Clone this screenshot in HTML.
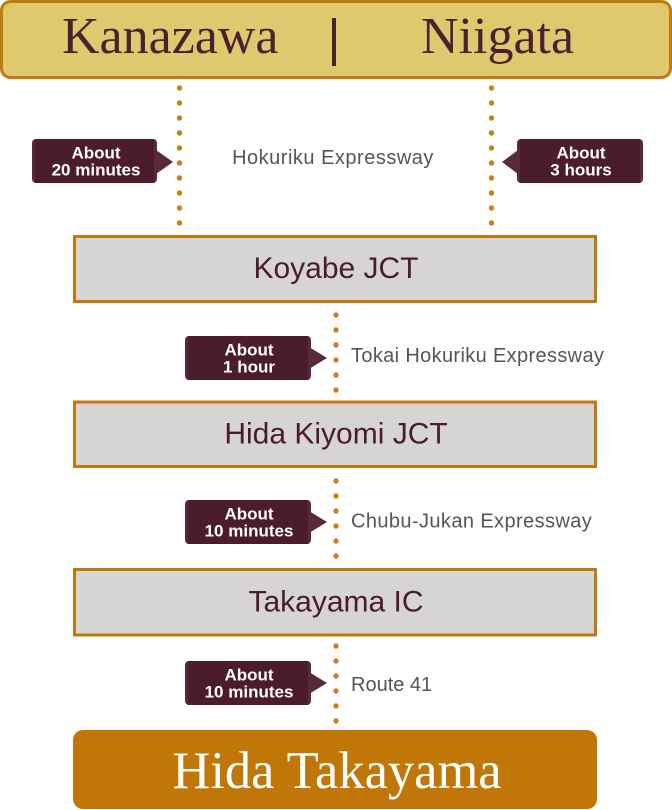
<!DOCTYPE html>
<html>
<head>
<meta charset="utf-8">
<style>
html,body{margin:0;padding:0;background:#fff;}
svg{display:block;}
.serif{font-family:"Liberation Serif","Times New Roman",serif;}
.sans{font-family:"Liberation Sans",Arial,sans-serif;}
</style>
</head>
<body>
<svg width="672" height="810" viewBox="0 0 672 810" xmlns="http://www.w3.org/2000/svg">
  <!-- Top box -->
  <rect x="1.5" y="1.5" width="669" height="76" rx="9" ry="9" fill="#dec96f" stroke="#c27a12" stroke-width="3"/>
  <text class="serif" x="62" y="53" font-size="52" fill="#4e1f2e">Kanazawa</text>
  <rect x="332" y="18" width="4" height="48" fill="#4e1f2e"/>
  <text class="serif" x="421" y="53" font-size="52" fill="#4e1f2e">Niigata</text>

  <!-- Dots -->
  <g fill="#c8801a">
    <circle cx="179.5" cy="88" r="2.7"/><circle cx="179.5" cy="103" r="2.7"/><circle cx="179.5" cy="118" r="2.7"/><circle cx="179.5" cy="133" r="2.7"/><circle cx="179.5" cy="148" r="2.7"/><circle cx="179.5" cy="163" r="2.7"/><circle cx="179.5" cy="178" r="2.7"/><circle cx="179.5" cy="193" r="2.7"/><circle cx="179.5" cy="208" r="2.7"/><circle cx="179.5" cy="223" r="2.7"/>
    <circle cx="491.5" cy="88" r="2.7"/><circle cx="491.5" cy="103" r="2.7"/><circle cx="491.5" cy="118" r="2.7"/><circle cx="491.5" cy="133" r="2.7"/><circle cx="491.5" cy="148" r="2.7"/><circle cx="491.5" cy="163" r="2.7"/><circle cx="491.5" cy="178" r="2.7"/><circle cx="491.5" cy="193" r="2.7"/><circle cx="491.5" cy="208" r="2.7"/><circle cx="491.5" cy="223" r="2.7"/>
    <circle cx="336" cy="315" r="2.7"/><circle cx="336" cy="330" r="2.7"/><circle cx="336" cy="345" r="2.7"/><circle cx="336" cy="360" r="2.7"/><circle cx="336" cy="375" r="2.7"/><circle cx="336" cy="390" r="2.7"/>
    <circle cx="336" cy="481" r="2.7"/><circle cx="336" cy="496" r="2.7"/><circle cx="336" cy="511" r="2.7"/><circle cx="336" cy="526" r="2.7"/><circle cx="336" cy="541" r="2.7"/><circle cx="336" cy="556" r="2.7"/>
    <circle cx="336" cy="646" r="2.7"/><circle cx="336" cy="661" r="2.7"/><circle cx="336" cy="676" r="2.7"/><circle cx="336" cy="691" r="2.7"/><circle cx="336" cy="706" r="2.7"/><circle cx="336" cy="721" r="2.7"/>
  </g>

  <!-- Badge left (20 minutes) -->
  <g>
    <polygon points="156,150 173,162 156,174" fill="#592a39"/>
    <rect x="32" y="139" width="125" height="44" rx="4" fill="#592a39"/>
    <rect x="35" y="139" width="119" height="44" fill="#4b1c2c"/>
    <text class="sans" x="96" y="158.5" font-size="17" font-weight="bold" fill="#fff" text-anchor="middle">About</text>
    <text class="sans" x="96" y="175.5" font-size="17" font-weight="bold" fill="#fff" text-anchor="middle">20 minutes</text>
  </g>
  <!-- Badge right (3 hours) -->
  <g>
    <polygon points="518,150 502,162 518,174" fill="#592a39"/>
    <rect x="517" y="139" width="126" height="44" rx="4" fill="#592a39"/>
    <rect x="520" y="139" width="120" height="44" fill="#4b1c2c"/>
    <text class="sans" x="581" y="158.5" font-size="17" font-weight="bold" fill="#fff" text-anchor="middle">About</text>
    <text class="sans" x="581" y="175.5" font-size="17" font-weight="bold" fill="#fff" text-anchor="middle">3 hours</text>
  </g>
  <text class="sans" x="333" y="164" font-size="20" letter-spacing="0.5" fill="#555" text-anchor="middle">Hokuriku Expressway</text>

  <!-- Koyabe JCT -->
  <rect x="74.5" y="236.5" width="521" height="65" fill="#d7d5d3" stroke="#c27812" stroke-width="3"/>
  <text class="sans" x="336" y="278" font-size="30" fill="#4a1c2b" text-anchor="middle">Koyabe JCT</text>

  <!-- Badge 1 hour -->
  <g>
    <polygon points="309,347 327,358 309,369" fill="#592a39"/>
    <rect x="185" y="336" width="126" height="44" rx="4" fill="#592a39"/>
    <rect x="188" y="336" width="120" height="44" fill="#4b1c2c"/>
    <text class="sans" x="249" y="355.5" font-size="17" font-weight="bold" fill="#fff" text-anchor="middle">About</text>
    <text class="sans" x="249" y="372.5" font-size="17" font-weight="bold" fill="#fff" text-anchor="middle">1 hour</text>
  </g>
  <text class="sans" x="351" y="362" font-size="20" letter-spacing="0.35" fill="#555">Tokai Hokuriku Expressway</text>

  <!-- Hida Kiyomi JCT -->
  <rect x="74.5" y="402" width="521" height="64.5" fill="#d7d5d3" stroke="#c27812" stroke-width="3"/>
  <text class="sans" x="336" y="443.5" font-size="30" fill="#4a1c2b" text-anchor="middle">Hida Kiyomi JCT</text>

  <!-- Badge 10 minutes -->
  <g>
    <polygon points="309,511 327,522 309,533" fill="#592a39"/>
    <rect x="185" y="500" width="126" height="44" rx="4" fill="#592a39"/>
    <rect x="188" y="500" width="120" height="44" fill="#4b1c2c"/>
    <text class="sans" x="249" y="519.5" font-size="17" font-weight="bold" fill="#fff" text-anchor="middle">About</text>
    <text class="sans" x="249" y="536.5" font-size="17" font-weight="bold" fill="#fff" text-anchor="middle">10 minutes</text>
  </g>
  <text class="sans" x="351" y="527.3" font-size="20" letter-spacing="0.4" fill="#555">Chubu-Jukan Expressway</text>

  <!-- Takayama IC -->
  <rect x="74.5" y="569.5" width="521" height="65.5" fill="#d7d5d3" stroke="#c27812" stroke-width="3"/>
  <text class="sans" x="336" y="611.7" font-size="30" fill="#4a1c2b" text-anchor="middle">Takayama IC</text>

  <!-- Badge 10 minutes (2) -->
  <g>
    <polygon points="309,672 327,683 309,694" fill="#592a39"/>
    <rect x="185" y="661" width="126" height="44" rx="4" fill="#592a39"/>
    <rect x="188" y="661" width="120" height="44" fill="#4b1c2c"/>
    <text class="sans" x="249" y="680.5" font-size="17" font-weight="bold" fill="#fff" text-anchor="middle">About</text>
    <text class="sans" x="249" y="697.5" font-size="17" font-weight="bold" fill="#fff" text-anchor="middle">10 minutes</text>
  </g>
  <text class="sans" x="351" y="691" font-size="20" fill="#555">Route 41</text>

  <!-- Hida Takayama -->
  <rect x="73" y="730" width="524" height="79" rx="10" ry="10" fill="#c17608"/>
  <text class="serif" x="337" y="788" font-size="52.5" fill="#fff" text-anchor="middle">Hida Takayama</text>
</svg>
</body>
</html>
